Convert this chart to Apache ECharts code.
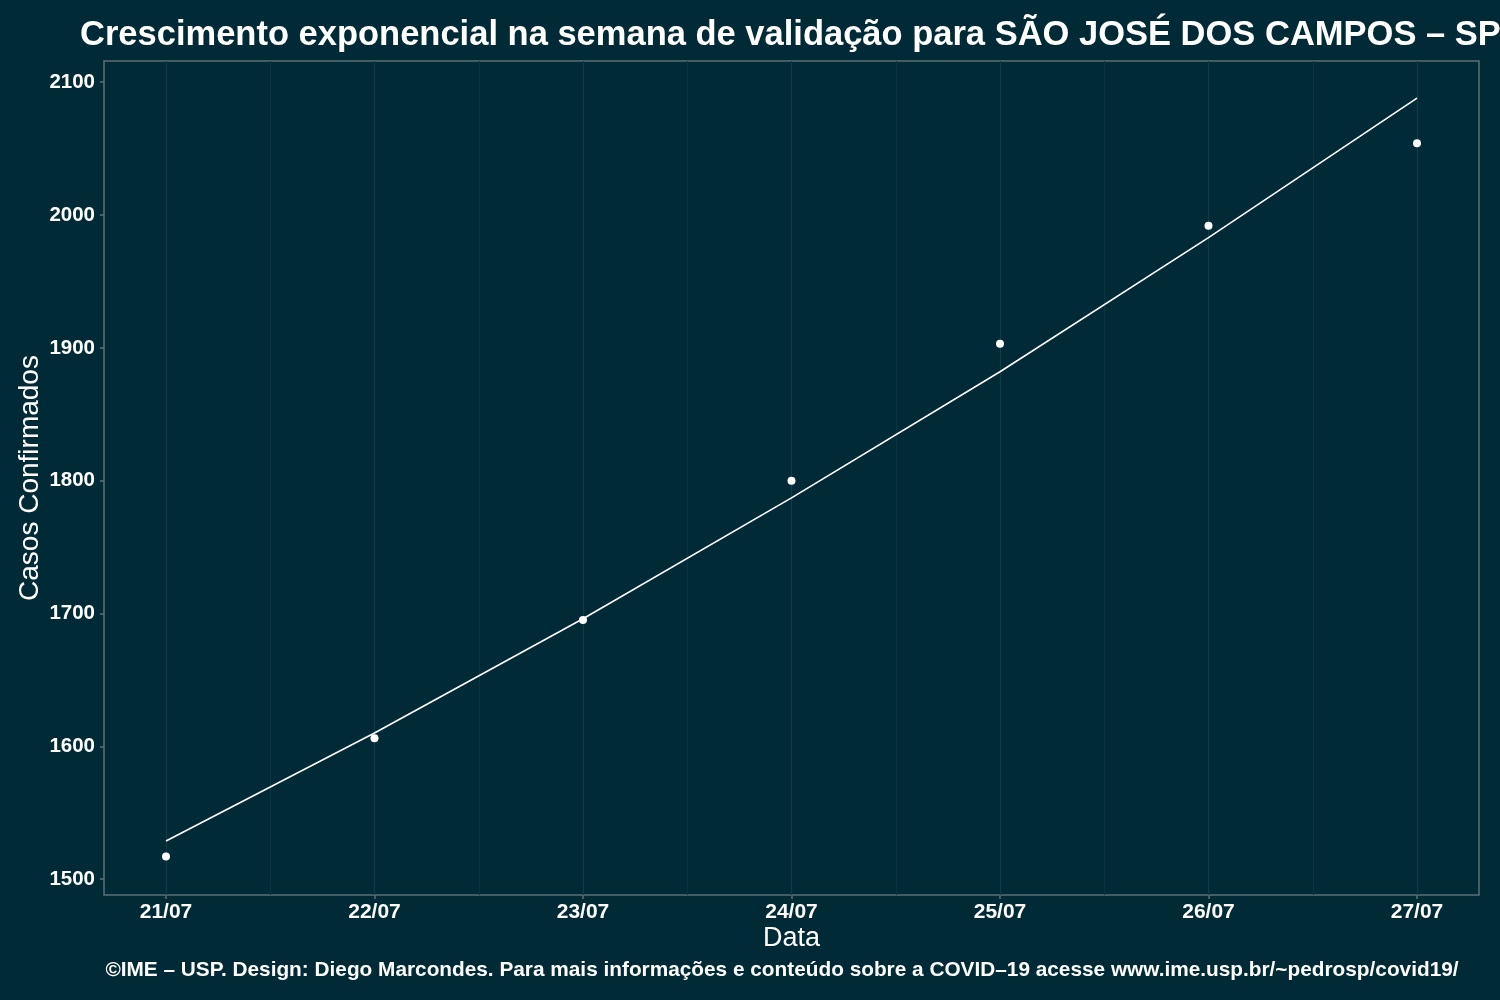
<!DOCTYPE html>
<html>
<head>
<meta charset="utf-8">
<script src="https://cdn.jsdelivr.net/npm/echarts@6/dist/echarts.min.js"></script>
<style>html,body{margin:0;padding:0;background:#002b36;}#c{width:1500px;height:1000px;}</style>
</head>
<body>
<div id="c"></div>
<script>
const categories = ['21/07','22/07','23/07','24/07','25/07','26/07','27/07'];
const observed = [1517, 1606, 1695, 1800, 1903, 1992, 2054];
const fitted = [1528.6, 1610, 1696, 1787, 1882, 1983, 2088];
const yTicks = [1500, 1600, 1700, 1800, 1900, 2000, 2100];

const FONT = 'Liberation Sans';
const chart = echarts.init(document.getElementById('c'), null, {renderer: 'canvas'});
const gTop = 61, gBottom = 105;
const yMin = 1488, yMax = 2116;

chart.setOption({
  backgroundColor: '#002b36',
  animation: false,
  textStyle: {fontFamily: FONT},
  title: [
    {text: 'Crescimento exponencial na semana de validação para SÃO JOSÉ DOS CAMPOS – SP', left: 75, top: 13,
     textStyle: {color: '#ffffff', fontSize: 34.5, fontWeight: 'bold', fontFamily: FONT}},
    {text: '©IME – USP. Design: Diego Marcondes. Para mais informações e conteúdo sobre a COVID–19 acesse www.ime.usp.br/~pedrosp/covid19/',
     left: 777, textAlign: 'center', top: 955,
     textStyle: {color: '#ffffff', fontSize: 20.8, fontWeight: 'bold', fontFamily: FONT}}
  ],
  grid: [
    {left: 104, right: 21, top: gTop, bottom: gBottom, show: true, borderColor: '#5b7076', borderWidth: 1.5, backgroundColor: 'transparent'},
    {left: 166, right: 83, top: gTop, bottom: gBottom, show: false}
  ],
  xAxis: [
    {gridIndex: 0, type: 'value', min: -0.3, max: 6.3, show: false},
    {gridIndex: 1, type: 'value', min: 0, max: 6, interval: 1,
     name: 'Data', nameLocation: 'middle', nameGap: 30, nameMoveOverlap: false,
     nameTextStyle: {color: '#ffffff', fontSize: 27, fontFamily: FONT},
     axisLine: {show: false, onZero: false},
     axisTick: {show: true, length: 4, lineStyle: {color: '#5b7076', width: 1.5}},
     axisLabel: {color: '#ffffff', fontSize: 21, fontWeight: 'bold', margin: 7, fontFamily: FONT,
       formatter: v => categories[Math.round(v)] || ''},
     splitLine: {show: true, lineStyle: {color: '#0d3d48', width: 1.2}},
     minorTick: {show: false, splitNumber: 2},
     minorSplitLine: {show: true, lineStyle: {color: '#083541', width: 1}}
    }
  ],
  yAxis: [
    {gridIndex: 0, type: 'value', min: yMin, max: yMax,
     name: 'Casos Confirmados', nameLocation: 'middle', nameGap: 60, nameRotate: 90, nameMoveOverlap: false,
     nameTextStyle: {color: '#ffffff', fontSize: 28, fontFamily: FONT},
     axisLine: {show: false, onZero: false},
     axisTick: {show: true, length: 4, customValues: yTicks, lineStyle: {color: '#5b7076', width: 1.5}},
     axisLabel: {color: '#ffffff', fontSize: 20.5, fontWeight: 'bold', margin: 9, customValues: yTicks, fontFamily: FONT,
       formatter: v => String(v)},
     splitLine: {show: false}
    },
    {gridIndex: 1, type: 'value', min: yMin, max: yMax, show: false, axisLine: {onZero: false}}
  ],
  series: [
    {type: 'line', xAxisIndex: 1, yAxisIndex: 1, data: fitted.map((v, i) => [i, v]),
     showSymbol: false, lineStyle: {color: '#ffffff', width: 1.6}, z: 3, silent: true},
    {type: 'scatter', xAxisIndex: 1, yAxisIndex: 1, data: observed.map((v, i) => [i, v]),
     symbolSize: 8, itemStyle: {color: '#ffffff', opacity: 1}, z: 4, silent: true}
  ]
});
</script>
</body>
</html>
